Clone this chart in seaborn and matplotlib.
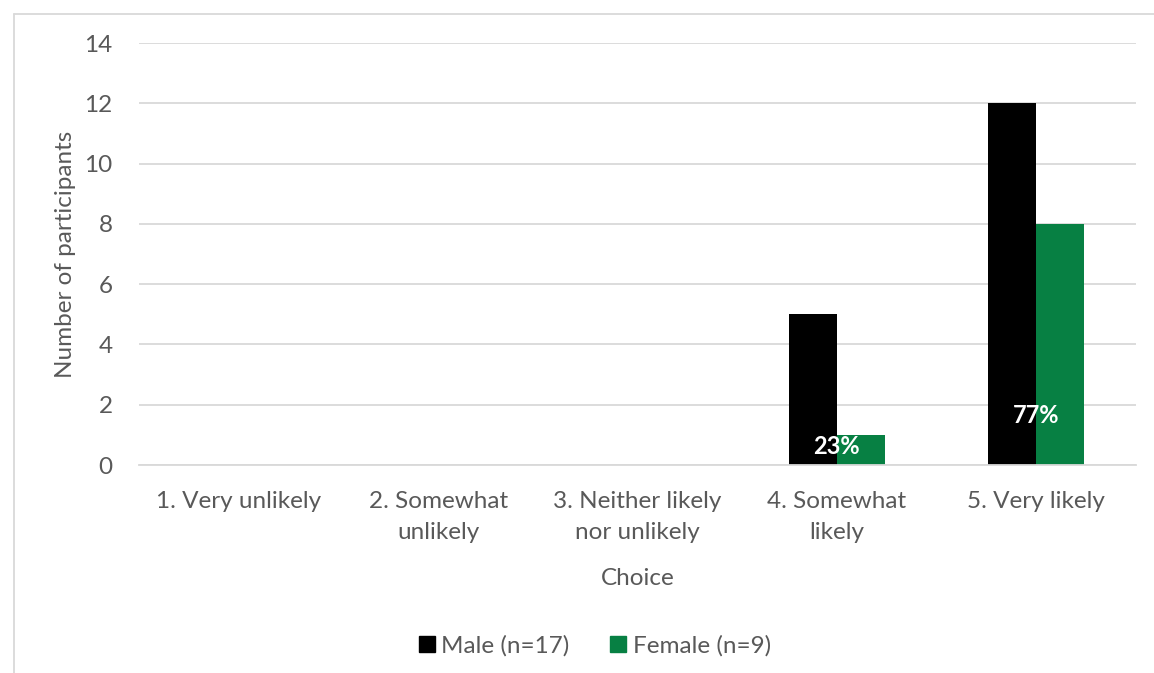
import matplotlib
matplotlib.use("Agg")
import matplotlib.pyplot as plt
from matplotlib.lines import Line2D
import seaborn as sns
import pandas as pd

categories = ["1. Very unlikely", "2. Somewhat\nunlikely", "3. Neither likely\nnor unlikely",
              "4. Somewhat\nlikely", "5. Very likely"]
male = [0, 0, 0, 5, 12]
female = [0, 0, 0, 1, 8]
series_names = ["Male (n=17)", "Female (n=9)"]
label_heights = [None, None, None, 0.6, 1.65]

colors = {"Male (n=17)": "#000000", "Female (n=9)": "#078043"}
text_gray = "#595959"
grid_gray = "#d9d9d9"
fs = 17.5

sns.set_theme(style="white")
plt.rcParams["font.family"] = ["Lato", "DejaVu Sans"]

df = pd.DataFrame({
    "Choice": categories * 2,
    "Count": male + female,
    "Group": [series_names[0]] * len(categories) + [series_names[1]] * len(categories),
})

fig = plt.figure(figsize=(11.54, 6.73), dpi=100)
ax = fig.add_axes([139 / 1154, 1 - 465 / 673, (1136 - 139) / 1154, (465 - 43) / 673])

sns.barplot(data=df, x="Choice", y="Count", hue="Group", palette=colors,
            width=0.48, saturation=1, ax=ax, legend=False, linewidth=0)

ax.set_ylim(0, 14)
ax.set_xlim(-0.5, len(categories) - 0.5)
ax.set_yticks(range(0, 15, 2))
ax.yaxis.grid(True, color=grid_gray, linewidth=1.3)
ax.set_axisbelow(True)
for side in ["top", "right", "left"]:
    ax.spines[side].set_visible(False)
ax.spines["bottom"].set_color(grid_gray)
ax.spines["bottom"].set_linewidth(1.3)
ax.tick_params(axis="both", length=0, labelsize=fs, colors=text_gray)
ax.tick_params(axis="y", pad=19)
ax.tick_params(axis="x", pad=19)
ax.set_xlabel("Choice", fontsize=fs, color=text_gray, labelpad=18)
ax.set_ylabel("Number of participants", fontsize=fs, color=text_gray, labelpad=6)
for lbl in ax.get_xticklabels():
    lbl.set_linespacing(1.55)

total = sum(male) + sum(female)
for i, (m, f) in enumerate(zip(male, female)):
    if label_heights[i] is None:
        continue
    pct = round(100 * (m + f) / total)
    ax.text(i, label_heights[i], f"{pct}%", ha="center", va="center",
            color="white", fontsize=17, fontweight="bold")

handles = [Line2D([0], [0], marker="s", linestyle="none", markersize=11,
                  markerfacecolor=colors[n], markeredgecolor=colors[n]) for n in series_names]
fig.legend(handles, series_names, loc="center", bbox_to_anchor=(594 / 1154, 1 - 646 / 673),
           ncol=2, frameon=False, fontsize=fs, labelcolor=text_gray,
           handletextpad=0.2, columnspacing=1.6, handlelength=0.8)

# chart-area frame (left and top edges)
fig.add_artist(Line2D([13.5 / 1154, 13.5 / 1154], [0, 1 - 14 / 673],
                      transform=fig.transFigure, color=grid_gray, linewidth=1.3))
fig.add_artist(Line2D([13.5 / 1154, 1], [1 - 14 / 673, 1 - 14 / 673],
                      transform=fig.transFigure, color=grid_gray, linewidth=1.3))

fig.savefig("out.png", dpi=100, facecolor="white")
